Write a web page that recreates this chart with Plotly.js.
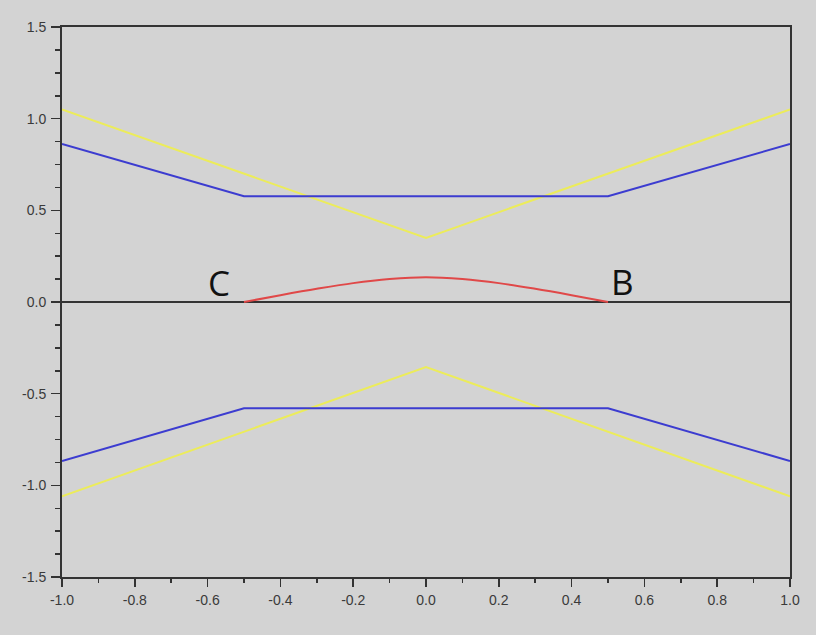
<!DOCTYPE html>
<html>
<head>
<meta charset="utf-8">
<script src="https://cdn.plot.ly/plotly-3.0.1.min.js"></script>
<style>html,body{margin:0;padding:0;background:#d3d3d3;}#chart{width:816px;height:635px;}</style>
</head>
<body>
<div id="chart"></div>
<script>
// Upper yellow V
const yellowUpX = [-1.0, 0.0, 1.0];
const yellowUpY = [1.05, 0.35, 1.05];
// Upper blue trapezoid
const blueUpX = [-1.0, -0.5, 0.5, 1.0];
const blueUpY = [0.862, 0.577, 0.577, 0.862];
// Lower yellow inverted V
const yellowLowX = [-1.0, 0.0, 1.0];
const yellowLowY = [-1.06, -0.355, -1.06];
// Lower blue trapezoid
const blueLowX = [-1.0, -0.5, 0.5, 1.0];
const blueLowY = [-0.867, -0.58, -0.58, -0.867];
// Red arc between C and B
const redX = [-0.5, -0.4, -0.3, -0.2, -0.1, 0.0, 0.1, 0.2, 0.3, 0.4, 0.5];
const redY = [0.0, 0.037, 0.072, 0.103, 0.125, 0.135, 0.125, 0.103, 0.072, 0.037, 0.0];
// Point labels
const labelText = ["C", "B"];
const labelX = [-0.57, 0.541];
const labelY = [0.105, 0.11];
// Ticks
const xTicks = [-1.0, -0.8, -0.6, -0.4, -0.2, 0.0, 0.2, 0.4, 0.6, 0.8, 1.0];
const xTickText = ["-1.0", "-0.8", "-0.6", "-0.4", "-0.2", "0.0", "0.2", "0.4", "0.6", "0.8", "1.0"];
const yTicks = [-1.5, -1.0, -0.5, 0.0, 0.5, 1.0, 1.5];
const yTickText = ["-1.5", "-1.0", "-0.5", "0.0", "0.5", "1.0", "1.5"];

const yellow = "#ecec5a";
const blue = "#3c3cd0";
const red = "#e04848";

const traces = [
  {x: yellowUpX, y: yellowUpY, mode: "lines", line: {color: yellow, width: 2}},
  {x: blueUpX, y: blueUpY, mode: "lines", line: {color: blue, width: 2}},
  {x: yellowLowX, y: yellowLowY, mode: "lines", line: {color: yellow, width: 2}},
  {x: blueLowX, y: blueLowY, mode: "lines", line: {color: blue, width: 2}},
  {x: redX, y: redY, mode: "lines", line: {color: red, width: 2, shape: "spline"}}
];

const tickFont = {family: "Liberation Sans, Arial, sans-serif", size: 14, color: "#3a3a3a"};

const layout = {
  width: 816, height: 635,
  paper_bgcolor: "#d3d3d3",
  plot_bgcolor: "#d3d3d3",
  showlegend: false,
  margin: {l: 62, r: 26, t: 27, b: 58},
  xaxis: {
    range: [-1, 1], tickvals: xTicks, ticktext: xTickText,
    showgrid: false, zeroline: false,
    showline: true, linecolor: "#333", linewidth: 2, mirror: true,
    ticks: "outside", ticklen: 8, tickwidth: 1.5, tickcolor: "#333",
    ticklabelstandoff: 1,
    minor: {dtick: 0.1, tick0: 0, ticks: "outside", ticklen: 4, tickwidth: 1.5, tickcolor: "#333", showgrid: false},
    tickfont: tickFont
  },
  yaxis: {
    range: [-1.5, 1.5], tickvals: yTicks, ticktext: yTickText,
    showgrid: false, zeroline: true, zerolinecolor: "#333", zerolinewidth: 2,
    showline: true, linecolor: "#333", linewidth: 2, mirror: true,
    ticks: "outside", ticklen: 9, tickwidth: 1.5, tickcolor: "#333",
    ticklabelstandoff: 2,
    minor: {dtick: 0.125, tick0: 0, ticks: "outside", ticklen: 5, tickwidth: 1.5, tickcolor: "#333", showgrid: false},
    tickfont: tickFont
  },
  annotations: labelText.map((t, i) => ({
    x: labelX[i], y: labelY[i], text: t, showarrow: false,
    font: {family: "Open Sans, Liberation Sans, sans-serif", size: 35, color: "#111"}
  }))
};

Plotly.newPlot("chart", traces, layout, {staticPlot: true, displayModeBar: false});
</script>
</body>
</html>
